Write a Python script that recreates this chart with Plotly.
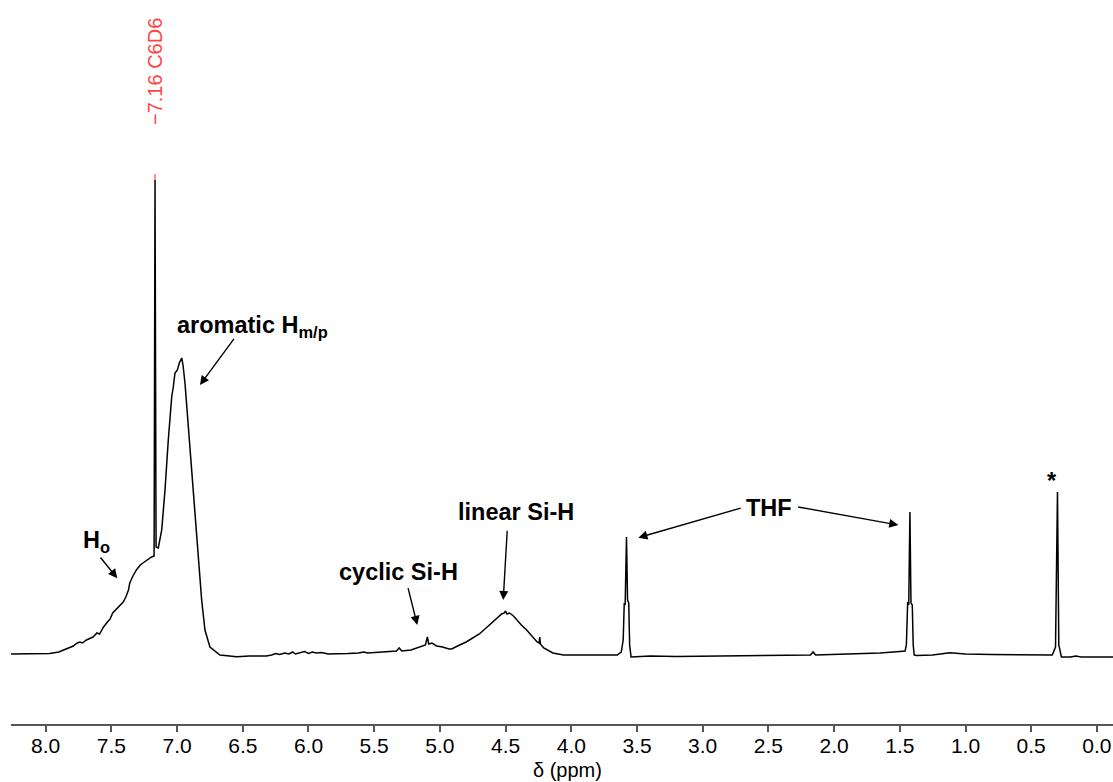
import plotly.graph_objects as go

# ---- spectrum data (chemical shift in ppm, intensity in arbitrary units) ----
ppm = [
    8.27, 8.10, 7.97, 7.90, 7.84, 7.79, 7.76, 7.74, 7.72, 7.69, 7.64, 7.61, 7.59,
    7.56, 7.53, 7.51, 7.49, 7.47, 7.45, 7.43, 7.41, 7.39, 7.37, 7.36, 7.34, 7.31,
    7.28, 7.26, 7.23, 7.194, 7.175, 7.168, 7.160, 7.143, 7.117, 7.092, 7.067,
    7.041, 7.029, 7.016, 6.998, 6.983, 6.965, 6.955, 6.940, 6.915, 6.889, 6.864,
    6.839, 6.813, 6.788, 6.750, 6.674, 6.546, 6.45, 6.32,
    6.28, 6.25, 6.22, 6.18, 6.15, 6.12, 6.10, 6.06, 6.03, 6.00, 5.97, 5.94, 5.90,
    5.85, 5.80, 5.70, 5.62, 5.58, 5.55, 5.50, 5.45, 5.38, 5.33, 5.31, 5.29, 5.22,
    5.15, 5.11, 5.095, 5.085, 5.06, 5.025, 4.98, 4.93, 4.91, 4.87, 4.85, 4.80,
    4.745, 4.70, 4.64, 4.60, 4.57, 4.53, 4.51, 4.50, 4.49, 4.47, 4.44, 4.415,
    4.38, 4.34, 4.30, 4.26, 4.245, 4.240, 4.235, 4.21, 4.14, 4.06, 3.90, 3.75,
    3.65, 3.62, 3.605, 3.597, 3.590, 3.580, 3.572, 3.563, 3.556, 3.545, 3.40,
    3.20, 2.80, 2.40, 2.18, 2.16, 2.14, 1.90, 1.65, 1.50, 1.46, 1.45, 1.44,
    1.432, 1.423, 1.415, 1.405, 1.398, 1.39, 1.37, 1.25, 1.12, 1.00, 0.80, 0.50,
    0.34, 0.315, 0.300, 0.290, 0.27, 0.20, 0.16, 0.12, -0.13,
]
intensity = [
    1, 1, 1.5, 3, 6.5, 9, 12, 13, 12, 15, 18, 22, 21,
    28, 33, 36, 42, 45, 48, 50, 53, 58, 65, 72, 78, 85,
    90, 92, 95, 98, 99, 475, 108, 107, 125, 165, 215,
    258, 268, 282, 285, 292, 297, 290, 272, 228, 182, 138,
    98, 55, 25, 8, 0, -1.7, -1, -1,
    0, 1.5, 0.5, 2, 1, 3, 1, 2, 3.5, 1.5, 3, 2, 2.5,
    1, 1, 1.5, 2, 3, 2, 2.5, 3, 3.5, 4, 7, 4, 5,
    8, 10, 18, 11, 12, 9, 8, 6, 6, 9, 10, 13,
    17, 21, 28, 33, 37, 41, 42, 44, 41, 42, 39, 35,
    30, 25, 19, 13, 12, 18, 11, 7, 2, 0, 0, 0,
    0, 3, 15, 52, 50, 118, 55, 52, 10, -2, -1,
    -1.5, -1, -0.5, 0, 3, 0, 1, 2, 3.5, 4, 10, 53,
    50, 143, 52, 50, 10, 0, -0.5, 0, 2.3, 1, 0.5, 0,
    0, 8, 163, 10, -2, -2, -1, -2, -2,
]

tick_vals = [8.0, 7.5, 7.0, 6.5, 6.0, 5.5, 5.0, 4.5, 4.0, 3.5, 3.0, 2.5, 2.0, 1.5, 1.0, 0.5, 0.0]
tick_text = [f"{v:.1f}" for v in tick_vals]

FONT = "Liberation Sans, Arial, sans-serif"
RED = "#ff4444"

fig = go.Figure()
fig.add_trace(go.Scatter(x=ppm, y=intensity, mode="lines",
                         line=dict(color="black", width=1.5),
                         hoverinfo="skip", showlegend=False))

# red solvent marker tick
fig.add_shape(type="line", xref="x", yref="y", x0=7.168, x1=7.168, y0=475, y1=481,
              line=dict(color=RED, width=1.2))

ann = []
# red solvent label
ann.append(dict(x=7.168, y=583, xref="x", yref="y", text="\u22127.16 C6D6",
                textangle=-90, showarrow=False,
                font=dict(family=FONT, size=20, color=RED),
                xanchor="center", yanchor="middle"))

bold = dict(family=FONT, size=23.5, color="black")
texts = [
    (7.731, 114, "<b>H<sub>o</sub></b>", "left"),
    (7.016, 329, "<b>aromatic H<sub>m/p</sub></b>", "left"),
    (5.318, 83, "<b>cyclic Si-H</b>", "center"),
    (4.422, 143, "<b>linear Si-H</b>", "center"),
    (2.498, 147, "<b>THF</b>", "center"),
    (0.345, 174, "<b>*</b>", "center"),
]
for x, y, t, xa in texts:
    ann.append(dict(x=x, y=y, xref="x", yref="y", text=t, showarrow=False,
                    font=bold, xanchor=xa, yanchor="middle"))

arrows = [
    ((7.592, 99), (7.455, 76.7)),
    ((6.559, 317.7), (6.826, 270)),
    ((5.245, 68.3), (5.172, 30)),
    ((4.487, 125.7), (4.518, 55)),
    ((2.699, 147.3), (3.490, 117.3)),
    ((2.285, 148.3), (1.511, 130)),
]
for (tx, ty), (hx, hy) in arrows:
    ann.append(dict(x=hx, y=hy, ax=tx, ay=ty, xref="x", yref="y", axref="x", ayref="y",
                    text="", showarrow=True, arrowhead=2, arrowsize=1.3,
                    arrowwidth=1.4, arrowcolor="black"))

# axis title
ann.append(dict(x=4.03, y=-0.0635, xref="x", yref="paper", text="\u03b4 (ppm)",
                showarrow=False, font=dict(family=FONT, size=20, color="black"),
                xanchor="center", yanchor="middle"))

fig.update_layout(
    width=1113, height=782,
    margin=dict(l=11, r=0, t=0, b=58),
    paper_bgcolor="white", plot_bgcolor="white",
    annotations=ann,
    xaxis=dict(range=[8.264, -0.1225], tickvals=tick_vals, ticktext=tick_text,
               showline=True, linecolor="#555555", linewidth=2,
               ticks="outside", ticklen=6, tickwidth=1.5, tickcolor="#555555",
               ticklabelstandoff=-4,
               tickfont=dict(family=FONT, size=21, color="black"),
               showgrid=False, zeroline=False),
    yaxis=dict(range=[-69, 655], visible=False, showgrid=False, zeroline=False),
)

fig.write_html("out.html")
